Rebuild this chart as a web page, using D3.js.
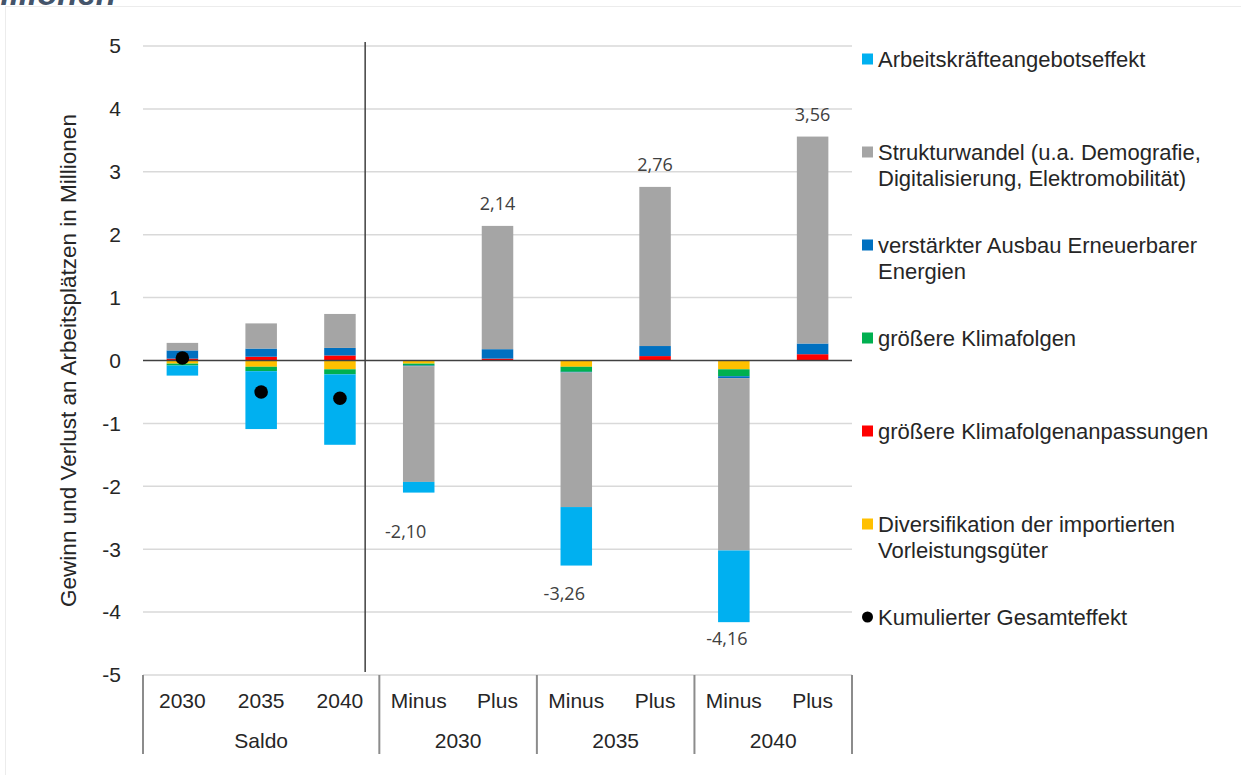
<!DOCTYPE html>
<html>
<head>
  <meta charset="utf-8">
  <script src="https://d3js.org/d3.v7.min.js"></script>
  <style>
    body { margin: 0; background: #fff; font-family: 'Liberation Sans', Arial, sans-serif; }
    .grid line { stroke: #d9d9d9; stroke-width: 1.5; }
    .ytick text { font-size: 21px; fill: #262626; }
    .cat text { font-family: 'Liberation Sans', Arial, sans-serif; font-size: 21px; fill: #262626; }
    .legend text { font-size: 22px; fill: #262626; }
    .vlabel { font-family: 'Open Sans', 'Noto Sans', sans-serif; font-size: 18px; fill: #404040; }
  </style>
</head>
<body>
<svg id="chart" width="1241" height="775"></svg>
<script>
  // categories on the x axis (Saldo 2030..2040, then Minus/Plus per year)
  var categories = ["2030", "2035", "2040", "Minus", "Plus", "Minus", "Plus", "Minus", "Plus"];
  var groups = ["Saldo", "2030", "2035", "2040"];
  var groupSizes = [3, 2, 2, 2];

  // series values in millions, one value per category
  var diversifikation = [-0.05, -0.10, -0.14, -0.05, 0, -0.10, 0, -0.14, 0];
  var anpassungen     = [0.03, 0.06, 0.08, 0, 0.03, 0, 0.07, 0, 0.10];
  var klimafolgen     = [-0.03, -0.07, -0.08, -0.03, 0, -0.08, 0, -0.11, 0];
  var erneuerbare     = [0.13, 0.13, 0.12, -0.01, 0.15, -0.01, 0.16, -0.03, 0.17];
  var strukturwandel  = [0.12, 0.40, 0.54, -1.84, 1.96, -2.14, 2.53, -2.74, 3.29];
  var arbeitskraefte  = [-0.16, -0.92, -1.12, -0.17, 0, -0.93, 0, -1.14, 0];
  // cumulated total effect (only for the Saldo columns)
  var gesamteffekt    = [0.04, -0.50, -0.60];

  var yTicks = [-5, -4, -3, -2, -1, 0, 1, 2, 3, 4, 5];

  var svg = d3.select("#chart");

  // faint chart frame and cut off title above
  svg.append("rect")
      .attr("x", 5.5).attr("y", 6.5)
      .attr("width", 1260).attr("height", 800)
      .attr("fill", "none").attr("stroke", "#ececec");
  svg.append("text")
      .attr("x", -27).attr("y", 5)
      .attr("font-size", "33px").attr("font-weight", "bold").attr("font-style", "italic")
      .attr("fill", "#44546a")
      .text("Millionen");

  var plotLeft = 143, plotRight = 852, plotTop = 46, plotBottom = 675;

  var ids = categories.map(function (c, i) { return i; });
  var x = d3.scaleBand().domain(ids).range([plotLeft, plotRight]).paddingInner(0.6).paddingOuter(0.3);
  var y = d3.scaleLinear().domain([-5, 5]).range([plotBottom, plotTop]);

  // stacking order: first key is closest to zero
  var series = [
    { key: "div",  name: "Diversifikation der importierten|Vorleistungsgüter", color: "#ffc000", values: diversifikation },
    { key: "anp",  name: "größere Klimafolgenanpassungen", color: "#ff0000", values: anpassungen },
    { key: "klim", name: "größere Klimafolgen", color: "#00b050", values: klimafolgen },
    { key: "ee",   name: "verstärkter Ausbau Erneuerbarer|Energien", color: "#0070c0", values: erneuerbare },
    { key: "str",  name: "Strukturwandel (u.a. Demografie,|Digitalisierung, Elektromobilität)", color: "#a5a5a5", values: strukturwandel },
    { key: "ak",   name: "Arbeitskräfteangebotseffekt", color: "#00b0f0", values: arbeitskraefte }
  ];

  var table = ids.map(function (i) {
    var row = { id: i };
    series.forEach(function (s) { row[s.key] = s.values[i]; });
    return row;
  });

  var stack = d3.stack()
      .keys(series.map(function (s) { return s.key; }))
      .offset(d3.stackOffsetDiverging);
  var stacked = stack(table);

  // gridlines
  svg.append("g").attr("class", "grid")
    .selectAll("line")
    .data(yTicks.filter(function (t) { return t !== 0; }))
    .enter().append("line")
      .attr("x1", plotLeft).attr("x2", plotRight)
      .attr("y1", function (d) { return y(d); })
      .attr("y2", function (d) { return y(d); });

  // y tick labels
  svg.append("g").attr("class", "ytick")
    .selectAll("text")
    .data(yTicks)
    .enter().append("text")
      .attr("x", 121)
      .attr("y", function (d) { return y(d); })
      .attr("dy", "0.35em")
      .attr("text-anchor", "end")
      .text(function (d) { return String(d); });

  // y axis title
  svg.append("text")
      .attr("transform", "translate(68," + y(0) + ") rotate(-90)")
      .attr("text-anchor", "middle")
      .attr("dy", "0.35em")
      .attr("font-size", "22.5px")
      .attr("fill", "#262626")
      .text("Gewinn und Verlust  an Arbeitsplätzen in Millionen");

  // bars
  var colorOf = {};
  series.forEach(function (s) { colorOf[s.key] = s.color; });
  svg.append("g").selectAll("g")
    .data(stacked)
    .enter().append("g")
      .attr("fill", function (d) { return colorOf[d.key]; })
    .selectAll("rect")
    .data(function (d) { return d; })
    .enter().append("rect")
      .attr("x", function (d) { return x(d.data.id); })
      .attr("width", x.bandwidth())
      .attr("y", function (d) { return y(Math.max(d[0], d[1])); })
      .attr("height", function (d) { return Math.abs(y(d[0]) - y(d[1])); });

  // zero line
  svg.append("line")
      .attr("x1", plotLeft).attr("x2", plotRight)
      .attr("y1", y(0)).attr("y2", y(0))
      .attr("stroke", "#404040").attr("stroke-width", 1.5);

  // divider between Saldo and the Minus/Plus columns
  var divX = x(2) + x.bandwidth() / 2 + x.step() * 0.32;
  svg.append("line")
      .attr("x1", divX).attr("x2", divX)
      .attr("y1", y(5) - 4).attr("y2", y(-5) - 3)
      .attr("stroke", "#404040").attr("stroke-width", 1.5);

  // cumulated effect dots
  svg.append("g").selectAll("circle")
    .data(gesamteffekt)
    .enter().append("circle")
      .attr("cx", function (d, i) { return x(i) + x.bandwidth() / 2; })
      .attr("cy", function (d) { return y(d); })
      .attr("r", 6.8)
      .attr("fill", "#000");

  // totals for Minus / Plus columns
  var labelShift = { 3: [-13, 39], 5: [-12, 28], 7: [-7, 17] };
  var totals = ids.slice(3).map(function (i) {
    var sum = d3.sum(series, function (s) { return s.values[i]; });
    return { id: i, value: sum };
  });
  svg.append("g").selectAll("text")
    .data(totals)
    .enter().append("text")
      .attr("class", "vlabel")
      .attr("text-anchor", "middle")
      .attr("x", function (d) {
        var c = x(d.id) + x.bandwidth() / 2;
        return d.value < 0 ? c + labelShift[d.id][0] : c;
      })
      .attr("y", function (d) {
        return d.value < 0 ? y(d.value) + labelShift[d.id][1] : y(d.value) - 22;
      })
      .attr("dy", "0.35em")
      .text(function (d) { return d.value.toFixed(2).replace(".", ","); });

  // category axis (two levels)
  var cat = svg.append("g").attr("class", "cat");
  cat.selectAll("text.c1")
    .data(ids)
    .enter().append("text")
      .attr("x", function (i) { return x(i) + x.bandwidth() / 2; })
      .attr("y", 701)
      .attr("dy", "0.35em")
      .attr("text-anchor", "middle")
      .text(function (i) { return categories[i]; });

  var starts = [], acc = 0;
  groupSizes.forEach(function (n) { starts.push(acc); acc += n; });
  var edges = starts.map(function (s) { return plotLeft + s * x.step(); }).concat([plotRight]);
  cat.selectAll("line")
    .data(edges)
    .enter().append("line")
      .attr("x1", function (d) { return d; }).attr("x2", function (d) { return d; })
      .attr("y1", plotBottom).attr("y2", 754)
      .attr("stroke", "#8c8c8c").attr("stroke-width", 2);
  cat.selectAll("text.c2")
    .data(groups)
    .enter().append("text")
      .attr("x", function (g, i) { return (edges[i] + edges[i + 1]) / 2; })
      .attr("y", 741)
      .attr("dy", "0.35em")
      .attr("text-anchor", "middle")
      .text(function (g) { return g; });

  // legend (reverse of stacking order, then the dot)
  var legendItems = series.slice().reverse().map(function (s) {
    return { name: s.name, color: s.color, dot: false };
  });
  legendItems.push({ name: "Kumulierter Gesamteffekt", color: "#000", dot: true });

  var legend = svg.append("g").attr("class", "legend");
  var item = legend.selectAll("g")
    .data(legendItems)
    .enter().append("g")
      .attr("transform", function (d, i) { return "translate(862," + (59 + i * 93) + ")"; });
  item.each(function (d) {
    var g = d3.select(this);
    if (d.dot) {
      g.append("circle").attr("cx", 5.5).attr("cy", 0).attr("r", 5.5).attr("fill", d.color);
    } else {
      g.append("rect").attr("x", 0).attr("y", -5.5).attr("width", 11).attr("height", 11).attr("fill", d.color);
    }
    var t = g.append("text").attr("x", 16).attr("y", 0);
    d.name.split("|").forEach(function (line, k) {
      t.append("tspan").attr("x", 16).attr("dy", k === 0 ? "0.35em" : "26px").text(line);
    });
  });
</script>
</body>
</html>
